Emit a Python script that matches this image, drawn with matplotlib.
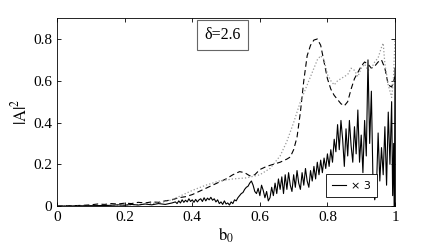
import numpy as np
import matplotlib
matplotlib.use('Agg')
import matplotlib.pyplot as plt

plt.rcParams['font.family'] = 'Liberation Serif'
plt.rcParams['mathtext.fontset'] = 'stix'

# dashed curve
b_dash = [0.00, 0.05, 0.08, 0.10, 0.12, 0.14, 0.16, 0.18, 0.20, 0.22, 0.24, 0.26, 0.28, 0.30,
          0.32, 0.34, 0.36, 0.38, 0.40, 0.42, 0.44, 0.46, 0.48, 0.50, 0.52, 0.54, 0.555, 0.57,
          0.585, 0.60, 0.62, 0.64, 0.66, 0.68, 0.69, 0.70, 0.71, 0.72, 0.73, 0.74, 0.75, 0.76,
          0.77, 0.78, 0.79, 0.80, 0.81, 0.82, 0.83, 0.84, 0.85, 0.86, 0.87, 0.88, 0.89, 0.90,
          0.91, 0.92, 0.93, 0.94, 0.95, 0.96, 0.97, 0.98, 0.99, 1.00]
a_dash = [0.0, 0.002, 0.004, 0.006, 0.01, 0.008, 0.012, 0.01, 0.014, 0.012, 0.018, 0.015, 0.02, 0.018,
          0.025, 0.03, 0.04, 0.045, 0.055, 0.07, 0.085, 0.10, 0.115, 0.13, 0.15, 0.165, 0.16, 0.145,
          0.15, 0.175, 0.19, 0.20, 0.21, 0.225, 0.235, 0.27, 0.33, 0.45, 0.60, 0.72, 0.77, 0.795,
          0.80, 0.77, 0.69, 0.61, 0.56, 0.53, 0.51, 0.49, 0.48, 0.50, 0.56, 0.61, 0.64, 0.67,
          0.69, 0.68, 0.66, 0.67, 0.69, 0.70, 0.66, 0.58, 0.57, 0.62]

# dotted (gray) curve
b_dot = [0.00, 0.10, 0.20, 0.25, 0.30, 0.33, 0.36, 0.40, 0.44, 0.48, 0.52, 0.56, 0.60, 0.63,
         0.66, 0.68, 0.70, 0.72, 0.74, 0.76, 0.77, 0.78, 0.79, 0.80, 0.81, 0.82, 0.83, 0.84,
         0.85, 0.86, 0.87, 0.88, 0.89, 0.90, 0.91, 0.92, 0.93, 0.94, 0.95, 0.96, 0.965, 0.97,
         0.98, 0.985, 0.99, 0.995, 1.00]
a_dot = [0.0, 0.002, 0.005, 0.008, 0.015, 0.025, 0.045, 0.075, 0.10, 0.12, 0.13, 0.135, 0.15, 0.18,
         0.24, 0.31, 0.40, 0.50, 0.58, 0.66, 0.70, 0.72, 0.70, 0.63, 0.60, 0.58, 0.60, 0.61,
         0.62, 0.63, 0.66, 0.65, 0.62, 0.66, 0.68, 0.65, 0.66, 0.69, 0.71, 0.76, 0.78, 0.68,
         0.58, 0.55, 0.52, 0.60, 0.80]

# solid curve (x3)
b_sol = [0.00, 0.05, 0.10, 0.15, 0.18, 0.20, 0.22, 0.24, 0.26, 0.28, 0.30, 0.32, 0.34,
         0.350, 0.355, 0.360, 0.365, 0.370, 0.375, 0.380, 0.385, 0.390, 0.395,
         0.400, 0.405, 0.410, 0.415, 0.420, 0.425, 0.430, 0.435, 0.440, 0.445,
         0.450, 0.455, 0.460, 0.465, 0.470, 0.475, 0.480, 0.485, 0.490, 0.495,
         0.500, 0.505, 0.510, 0.515, 0.520, 0.525, 0.530, 0.535, 0.540, 0.545,
         0.550, 0.555, 0.560, 0.565, 0.570, 0.575, 0.580, 0.585, 0.590, 0.595,
         0.600, 0.605, 0.610, 0.615, 0.620, 0.625, 0.630, 0.635, 0.640, 0.645,
         0.650, 0.655, 0.660, 0.665, 0.670, 0.675, 0.680, 0.685, 0.690, 0.695,
         0.700, 0.705, 0.710, 0.715, 0.720, 0.725, 0.730, 0.735, 0.740, 0.745,
         0.750, 0.755, 0.760, 0.765, 0.770, 0.775, 0.780, 0.785, 0.790, 0.795,
         0.800, 0.805, 0.810, 0.815, 0.820, 0.825, 0.830, 0.835, 0.840, 0.845,
         0.850, 0.855, 0.860, 0.865, 0.870, 0.875, 0.880, 0.885, 0.890, 0.895,
         0.900, 0.905, 0.910, 0.915, 0.920, 0.925, 0.930, 0.935, 0.940, 0.945,
         0.950, 0.955, 0.960, 0.965, 0.970, 0.975, 0.980, 0.985, 0.990, 0.993,
         0.996, 0.998, 1.000]
a_sol = [0.0, 0.001, 0.002, 0.003, 0.006, 0.004, 0.008, 0.005, 0.01, 0.006, 0.012, 0.008, 0.015,
         0.02, 0.012, 0.025, 0.015, 0.03, 0.018, 0.028, 0.02, 0.035, 0.022,
         0.03, 0.018, 0.032, 0.02, 0.03, 0.035, 0.022, 0.04, 0.025, 0.038,
         0.03, 0.042, 0.028, 0.035, 0.02, 0.03, 0.012, 0.02, 0.008, 0.025,
         0.01, 0.015, 0.005, 0.02, 0.012, 0.03, 0.025, 0.04, 0.05, 0.06,
         0.065, 0.08, 0.09, 0.095, 0.11, 0.12, 0.10, 0.07, 0.06, 0.085,
         0.05, 0.10, 0.075, 0.04, 0.07, 0.025, 0.04, 0.09, 0.05, 0.11,
         0.06, 0.13, 0.08, 0.14, 0.06, 0.15, 0.08, 0.16, 0.10, 0.07,
         0.15, 0.09, 0.17, 0.11, 0.08, 0.16, 0.10, 0.18, 0.12, 0.09,
         0.17, 0.12, 0.19, 0.13, 0.21, 0.15, 0.22, 0.16, 0.23, 0.18,
         0.25, 0.19, 0.27, 0.21, 0.32, 0.26, 0.39, 0.27, 0.41, 0.32,
         0.19, 0.37, 0.24, 0.41, 0.29, 0.21, 0.38, 0.25, 0.46, 0.21,
         0.34, 0.16, 0.41, 0.24, 0.70, 0.30, 0.55, 0.10, 0.03, 0.08,
         0.35, 0.12, 0.28, 0.15, 0.38, 0.10, 0.45, 0.20, 0.50, 0.05,
         0.30, 0.0, 0.66]

fig = plt.figure(figsize=(4.36, 2.48), dpi=100)
ax = fig.add_axes([0.131, 0.169, 0.775, 0.758])

ax.plot(b_dash, a_dash, color='black', linestyle=(0, (5, 3)), linewidth=0.8)
ax.plot(b_dot, a_dot, color='#999999', linestyle=':', linewidth=0.9)
line_sol, = ax.plot(b_sol, a_sol, color='black', linestyle='-', linewidth=0.8)

ax.set_xlim(0, 1)
ax.set_ylim(0, 0.9)
ax.set_xticks([0, 0.2, 0.4, 0.6, 0.8, 1])
ax.set_xticklabels(['0', '0.2', '0.4', '0.6', '0.8', '1'])
ax.set_yticks([0, 0.2, 0.4, 0.6, 0.8])
ax.set_yticklabels(['0', '0.2', '0.4', '0.6', '0.8'])
ax.tick_params(direction='in', top=True, right=True, length=3, labelsize=11, width=0.6)
for s in ax.spines.values():
    s.set_linewidth(0.6)

ax.set_xlabel(r'$\mathrm{b}_0$', fontsize=12, labelpad=1)
ax.set_ylabel(r'$|\mathrm{A}|^2$', fontsize=12, labelpad=2)

ax.text(0.49, 0.82, 'δ=2.6', fontsize=11.5, ha='center', va='center',
        bbox=dict(boxstyle='square,pad=0.45', fc='white', ec='#666666', lw=0.8))

leg = ax.legend([line_sol], ['× 3'], loc='lower left', bbox_to_anchor=(0.795, 0.05),
                fancybox=False, edgecolor='black', framealpha=1, handlelength=1.3,
                handletextpad=0.4, borderpad=0.55, borderaxespad=0.0,
                prop={'family': 'DejaVu Sans', 'size': 8})
leg.get_frame().set_linewidth(0.6)

fig.savefig('out.png', dpi=100)
